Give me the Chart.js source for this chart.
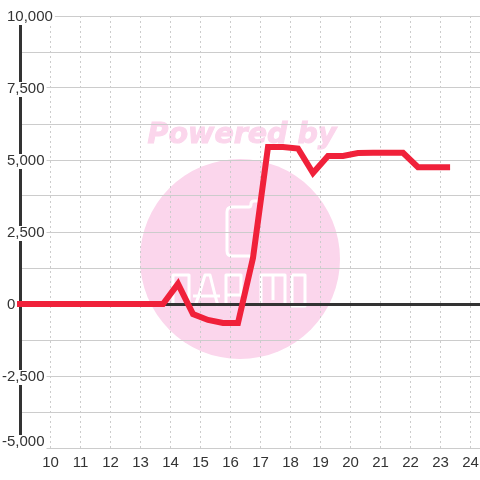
<!DOCTYPE html>
<html>
<head>
<meta charset="utf-8">
<style>
  html, body { margin: 0; padding: 0; background: #fff; }
  #wrap { width: 480px; height: 480px; position: relative; }
</style>
<script src="https://cdn.jsdelivr.net/npm/chart.js@4"></script>
</head>
<body>
<div id="wrap"><canvas id="chart" width="480" height="480"></canvas></div>
<script>
// values
const hours = [8.75, 9.25, 9.75, 10.25, 10.75, 11.25, 11.75, 12.25, 12.75, 13.25, 13.75, 14.25, 14.75, 15.25, 15.75, 16.25, 16.75, 17.25, 17.75, 18.25, 18.75, 19.25, 19.75, 20.25, 20.75, 21.25, 21.75, 22.25, 22.75, 23.32];
const values = [0, 0, 0, 0, 0, 0, 0, 0, 0, 0, 0, 700, -350, -555, -660, -660, 1600, 5450, 5450, 5400, 4550, 5140, 5140, 5240, 5250, 5250, 5250, 4750, 4750, 4750];
const xTickValues = [10, 11, 12, 13, 14, 15, 16, 17, 18, 19, 20, 21, 22, 23, 24];
const yTickLabels = ['10,000', '7,500', '5,000', '2,500', '0', '-2,500', '-5,000'];
const yTickValues = [10000, 7500, 5000, 2500, 0, -2500, -5000];

// white logo strokes inside the circle
const logoStrokes = [
  [[173, 304], [173, 275], [189, 275], [189, 306]],
  [[195, 306], [199, 295], [205, 275], [210, 275], [215, 295], [218, 306]],
  [[193, 296], [220, 296]],
  [[226, 306], [226, 275], [241, 275], [241, 295], [226, 295]],
  [[261, 306], [261, 275], [285, 275], [285, 306]],
  [[273, 275], [273, 300]],
  [[292, 275], [305, 275], [305, 306], [292, 306], [292, 275]]
];

// faint logo behind the grid
const watermark = {
  id: 'watermark',
  beforeDraw(chart) {
    const ctx = chart.ctx;
    ctx.save();
    ctx.fillStyle = '#fbd6ec';
    ctx.beginPath();
    ctx.arc(240, 259, 100, 0, Math.PI * 2);
    ctx.fill();
    ctx.font = 'italic bold 28.5px "DejaVu Sans"';
    ctx.textAlign = 'center';
    ctx.textBaseline = 'middle';
    ctx.fillText('Powered by', 242, 136);
    ctx.strokeStyle = '#fbd6ec';
    ctx.lineWidth = 1;
    ctx.strokeText('Powered by', 242, 136);
    ctx.strokeStyle = '#fff';
    ctx.lineWidth = 3;
    ctx.lineJoin = 'round';
    ctx.beginPath();
    ctx.moveTo(252, 256);
    ctx.lineTo(232, 256);
    ctx.quadraticCurveTo(227, 256, 227, 251);
    ctx.lineTo(227, 212);
    ctx.quadraticCurveTo(227, 207, 232, 207);
    ctx.lineTo(249, 207);
    ctx.quadraticCurveTo(251, 207, 251, 204);
    ctx.quadraticCurveTo(251, 201, 254, 201);
    ctx.lineTo(258, 201);
    ctx.stroke();
    logoStrokes.forEach(s => {
      ctx.beginPath();
      s.forEach((p, i) => i ? ctx.lineTo(p[0], p[1]) : ctx.moveTo(p[0], p[1]));
      ctx.stroke();
    });
    ctx.restore();
  }
};

// y labels sit on a white patch over the axis line
const yLabels = {
  id: 'yLabels',
  beforeDatasetsDraw(chart) {
    const ctx = chart.ctx;
    const y = chart.scales.y;
    ctx.save();
    ctx.font = '15px "Liberation Sans"';
    ctx.textBaseline = 'middle';
    ctx.textAlign = 'left';
    yTickValues.forEach((v, i) => {
      let py = y.getPixelForValue(v) + 1;
      if (v === -5000) py = y.getPixelForValue(v) - 6;
      const left = v < 0 ? 2 : 7;
      const w = ctx.measureText(yTickLabels[i]).width;
      ctx.fillStyle = '#fff';
      ctx.fillRect(left - 1, py - 7, w + 3, 15);
      ctx.fillStyle = '#333';
      ctx.fillText(yTickLabels[i], left, py);
    });
    ctx.restore();
  }
};

new Chart(document.getElementById('chart').getContext('2d'), {
  type: 'line',
  data: {
    datasets: [{
      data: hours.map((h, i) => ({ x: h, y: values[i] })),
      borderColor: '#f0213a',
      borderWidth: 6,
      borderJoinStyle: 'miter',
      pointRadius: 0,
      tension: 0,
      fill: false,
      clip: { left: 3, top: 0, right: 0, bottom: 0 }
    }]
  },
  options: {
    responsive: false,
    animation: false,
    layout: { padding: { left: 20, top: 16, right: 0, bottom: 0 } },
    plugins: { legend: { display: false }, tooltip: { enabled: false } },
    scales: {
      x: {
        type: 'linear',
        min: 8.983,
        max: 24.317,
        afterBuildTicks(scale) { scale.ticks = xTickValues.map(v => ({ value: v })); },
        afterFit(scale) {
          scale.height = 32;
          scale.paddingLeft = 0;
          scale.paddingRight = 0;
        },
        grid: {
          color: '#cccccc',
          tickLength: 0,
          lineWidth: 1
        },
        border: { display: false, dash: [2, 3] },
        ticks: {
          autoSkip: false,
          maxRotation: 0,
          padding: 6,
          color: '#333',
          font: { family: 'Liberation Sans', size: 15 }
        }
      },
      y: {
        min: -5000,
        max: 10000,
        afterFit(scale) { scale.width = 0; },
        grid: {
          tickLength: 0,
          color: ctx => ctx.tick.value === 0 ? '#333333' : '#cccccc',
          lineWidth: ctx => ctx.tick.value === 0 ? 3 : 1
        },
        border: { display: true, color: '#333333', width: 3 },
        ticks: {
          stepSize: 1250,
          autoSkip: false,
          display: false
        }
      }
    }
  },
  plugins: [watermark, yLabels]
});
</script>
</body>
</html>
